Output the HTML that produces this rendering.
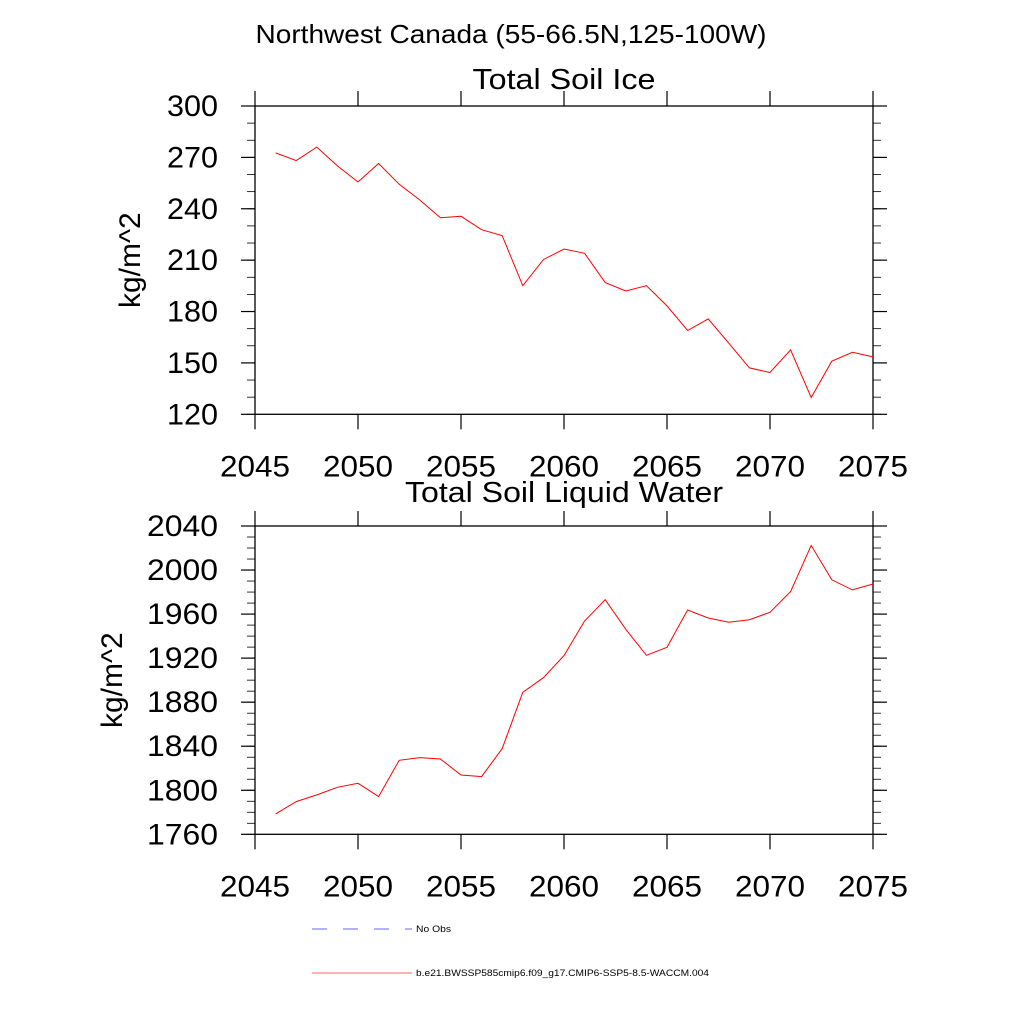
<!DOCTYPE html>
<html><head><meta charset="utf-8"><style>
html,body{margin:0;padding:0;background:#fff;}
svg{display:block;font-family:"Liberation Sans",Arial,sans-serif;}
</style></head><body>
<svg id="c" width="1024" height="1024" viewBox="0 0 1024 1024">
<text x="511" y="43" font-size="26" text-anchor="middle" textLength="511" lengthAdjust="spacingAndGlyphs">Northwest Canada (55-66.5N,125-100W)</text>
<g id="legend">
<g>
<line x1="312" y1="929" x2="412" y2="929" stroke="#6666ff" stroke-width="1" stroke-dasharray="15,16"/>
<text x="416" y="932" font-size="9" textLength="35" lengthAdjust="spacingAndGlyphs">No Obs</text>
</g>
<g>
<line x1="312" y1="973" x2="412" y2="973" stroke="#ff6666" stroke-width="1"/>
<text x="416" y="976" font-size="9" textLength="293" lengthAdjust="spacingAndGlyphs">b.e21.BWSSP585cmip6.f09_g17.CMIP6-SSP5-8.5-WACCM.004</text>
</g>
</g>
</svg>
<script>
const years = [2046,2047,2048,2049,2050,2051,2052,2053,2054,2055,2056,2057,2058,2059,2060,2061,2062,2063,2064,2065,2066,2067,2068,2069,2070,2071,2072,2073,2074,2075];
const soilIce = [272.6,268.1,276,265,255.6,266.4,254.3,245.1,234.8,235.6,227.8,224.3,195.1,210.3,216.5,214,196.9,192,195.1,183.3,168.9,175.7,161.5,147.1,144.4,157.6,129.8,151,156.2,153.5];
const soilLiquid = [1778.5,1789.7,1795.8,1802.7,1806.3,1794.2,1827.2,1829.7,1828.4,1813.9,1812.4,1837.8,1889,1902.2,1922.3,1953.7,1973.1,1946.2,1922.6,1929.8,1963.7,1956.4,1952.5,1954.9,1961.6,1980.4,2022.4,1991.1,1982,1987.3];
const xTicks = [2045,2050,2055,2060,2065,2070,2075];
const iceTicks = [120,150,180,210,240,270,300];
const liquidTicks = [1760,1800,1840,1880,1920,1960,2000,2040];

const NS='http://www.w3.org/2000/svg';
const svg=document.getElementById('c');
function mk(tag,attrs,parent){const e=document.createElementNS(NS,tag);for(const k in attrs)e.setAttribute(k,attrs[k]);(parent||svg).appendChild(e);return e;}

function panel(cfg){
  const L=255,R=873,T=cfg.top,B=cfg.bottom;
  const g=mk('g',{});
  
  
  const xs=v=>L+(v-2045)/(2075-2045)*(R-L);
  const ys=v=>B-(v-cfg.ymin)/(cfg.ymax-cfg.ymin)*(B-T);
  const fr=mk('rect',{x:L,y:T,width:R-L,height:B-T,fill:'none',stroke:'#000','stroke-width':1.3},g);
  
  
  for(let v=cfg.ymin;v<=cfg.ymax+1e-6;v+=cfg.minor){
    const y=ys(v);
    const m=mk('line',{x1:L-8,y1:y,x2:L,y2:y,stroke:'#000','stroke-width':0.8},g);
    
    
    const m2=mk('line',{x1:R,y1:y,x2:R+8,y2:y,stroke:'#000','stroke-width':0.8},g);
    
    
  }
  cfg.ticks.forEach(v=>{
    const y=ys(v);
    const a=mk('line',{x1:L-14,y1:y,x2:L,y2:y,stroke:'#000','stroke-width':1.2},g);
    
    
    const b=mk('line',{x1:R,y1:y,x2:R+14,y2:y,stroke:'#000','stroke-width':1.2},g);
    
    
    const s=String(v);
    const lb=mk('text',{x:218,y:y+10,'font-size':30,'text-anchor':'end',textLength:(s.length===3?51:71),lengthAdjust:'spacingAndGlyphs'},g);
    lb.textContent=s;
    
    
  });
  xTicks.forEach(v=>{
    const x=xs(v);
    const a=mk('line',{x1:x,y1:T-15,x2:x,y2:T,stroke:'#000','stroke-width':1.2},g);
    
    
    const b=mk('line',{x1:x,y1:B,x2:x,y2:B+15,stroke:'#000','stroke-width':1.2},g);
    
    
    const lb=mk('text',{x:x,y:B+62,'font-size':30,'text-anchor':'middle',textLength:70,lengthAdjust:'spacingAndGlyphs'},g);
    lb.textContent=String(v);
    
    
  });
  const pts=years.map((yr,i)=>xs(yr).toFixed(1)+','+ys(cfg.data[i]).toFixed(1)).join(' ');
  const pl=mk('polyline',{points:pts,fill:'none',stroke:'#ff0000','stroke-width':1},g);
  
  
  const tt=mk('text',{x:564,y:cfg.titleY,'font-size':29,'text-anchor':'middle',textLength:cfg.titleW,lengthAdjust:'spacingAndGlyphs'},g);
  tt.textContent=cfg.title;
  
  
  const yt=mk('text',{x:0,y:0,'font-size':30,'text-anchor':'middle',transform:'translate('+cfg.ytx+','+((T+B)/2)+') rotate(-90)'},g);
  yt.textContent='kg/m^2';
  
  
}
panel({name:'soil-ice-panel',seriesName:'soil-ice-line',top:106,bottom:414.3,ymin:120,ymax:300,minor:10,ticks:iceTicks,data:soilIce,title:'Total Soil Ice',titleY:89,titleW:183,ytx:140});
panel({name:'soil-liquid-panel',seriesName:'soil-liquid-line',top:526,bottom:834.3,ymin:1760,ymax:2040,minor:10,ticks:liquidTicks,data:soilLiquid,title:'Total Soil Liquid Water',titleY:502,titleW:318,ytx:122});
</script>
</body></html>
